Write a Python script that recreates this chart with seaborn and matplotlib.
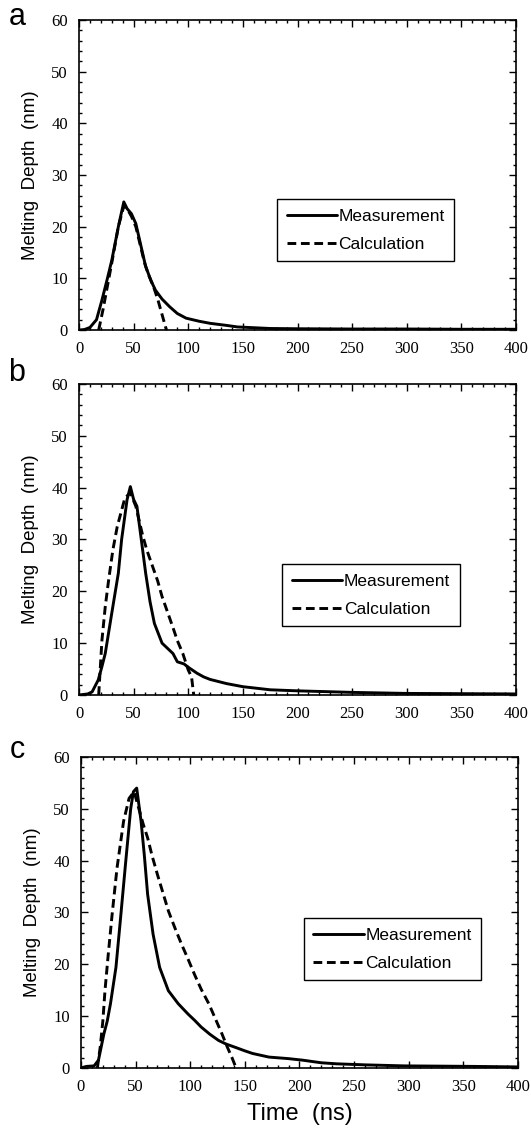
## Melting depth vs time, three laser conditions (a, b, c)
import numpy as np
import pandas as pd
import seaborn as sns
import matplotlib
matplotlib.use("Agg")
import matplotlib.pyplot as plt
from matplotlib.ticker import MultipleLocator

#values (time in ns, depth in nm)
meas_a_t = [0, 5, 10, 16, 21, 26, 30, 36, 41, 44, 48, 52, 57, 61, 66, 70, 76, 83, 90, 98, 110, 120, 135, 145, 160, 175, 200, 250, 300, 350, 400]
meas_a_d = [0, 0.1, 0.5, 2.0, 5.8, 10.0, 13.5, 20.0, 24.8, 23.5, 22.5, 20.6, 16.0, 12.3, 9.5, 7.7, 6.0, 4.5, 3.2, 2.3, 1.7, 1.3, 0.9, 0.6, 0.45, 0.3, 0.25, 0.2, 0.2, 0.15, 0.15]
calc_a_t = [18, 22, 26, 30, 36, 41, 44, 48, 52, 56, 60, 64, 68, 72, 76, 80]
calc_a_d = [0, 4.0, 8.5, 13.0, 20.0, 24.0, 23.5, 22.0, 20.0, 16.5, 13.0, 10.5, 8.5, 6.0, 3.0, 0]

meas_b_t = [0, 8, 12, 17.6, 21, 24, 30, 36, 39, 44, 47, 50, 53, 57, 61, 65, 69, 76, 81, 86, 90, 96, 101, 108, 114, 120, 135, 150, 175, 200, 250, 300, 350, 400]
meas_b_d = [0, 0.2, 0.6, 2.9, 5.5, 8.0, 15.8, 23.5, 30.0, 37.7, 40.2, 37.7, 36.4, 30.0, 23.5, 18.0, 13.8, 10.0, 9.0, 8.0, 6.4, 6.0, 5.2, 4.2, 3.5, 3.0, 2.2, 1.6, 1.0, 0.8, 0.5, 0.3, 0.25, 0.2]
calc_b_t = [18, 21, 24, 27, 31, 35, 42, 47, 52, 58, 62, 67, 72, 76, 81, 86, 90, 95, 100, 103, 105]
calc_b_d = [0, 10.6, 17.0, 22.0, 28.0, 32.5, 38.0, 39.0, 36.4, 31.0, 28.0, 25.0, 22.0, 19.0, 16.0, 13.0, 10.5, 8.0, 4.8, 3.5, 0]

meas_c_t = [0, 5, 12, 16, 21, 24, 27, 32, 36, 41, 45.5, 48, 51, 55, 58, 61, 66, 72, 80, 89, 98, 104, 110, 118, 126, 133, 141, 150, 157, 172, 190, 203, 220, 234, 260, 296, 330, 360, 400]
meas_c_d = [0, 0.3, 0.4, 1.5, 6.6, 9.0, 12.4, 19.4, 28.4, 39.9, 50.0, 53.3, 54.0, 47.6, 41.0, 33.5, 25.8, 19.4, 14.9, 12.4, 10.4, 9.2, 7.9, 6.5, 5.3, 4.6, 4.0, 3.3, 2.8, 2.1, 1.8, 1.5, 1.0, 0.8, 0.6, 0.4, 0.35, 0.3, 0.2]
calc_c_t = [15, 17.6, 20, 22, 25, 28.5, 33, 39, 44, 48.6, 53, 57, 61, 65, 70, 75, 80, 86, 92, 98, 104, 110, 117, 123, 129, 134, 138, 142]
calc_c_d = [0, 4.0, 9.0, 15.0, 22.0, 29.6, 38.6, 47.6, 52.0, 53.3, 50.0, 47.0, 44.4, 41.0, 37.3, 33.8, 30.3, 27.0, 23.9, 21.0, 18.0, 15.2, 12.4, 9.5, 6.6, 4.0, 2.1, 0]

panel_letters = ['a', 'b', 'c']
series_names = ['Measurement', 'Calculation']

sns.set_style("ticks")
plt.rcParams['font.family'] = ['Liberation Sans', 'DejaVu Sans']
plt.rcParams['axes.linewidth'] = 1.2
#plain black everywhere, like the scanned original
for key in ['text.color', 'axes.labelcolor', 'axes.edgecolor', 'xtick.color', 'ytick.color']:
    plt.rcParams[key] = 'black'

fig = plt.figure(figsize=(5.31, 11.33), dpi=100)

#axes rectangles in figure fractions
rects = [[0.1488, 0.7087, 0.823, 0.2736],
         [0.1488, 0.3866, 0.823, 0.2745],
         [0.1525, 0.0574, 0.823, 0.2745]]
#legend upper-left corners in axes coords
leg_pos = [(0.453, 0.423), (0.465, 0.421), (0.51, 0.482)]
letter_y = [17, 373, 750]

data = [(meas_a_t, meas_a_d, calc_a_t, calc_a_d),
        (meas_b_t, meas_b_d, calc_b_t, calc_b_d),
        (meas_c_t, meas_c_d, calc_c_t, calc_c_d)]

for i, (mt, md, ct, cd) in enumerate(data):
    ax = fig.add_axes(rects[i])
    df = pd.concat([
        pd.DataFrame({'time': mt, 'depth': md, 'series': series_names[0]}),
        pd.DataFrame({'time': ct, 'depth': cd, 'series': series_names[1]}),
    ])
    sns.lineplot(data=df, x='time', y='depth', style='series', color='black',
                 dashes={'Measurement': '', 'Calculation': (3, 1.6)},
                 linewidth=2.1, sort=False, estimator=None, ax=ax)
    ax.set_xlim(0, 400)
    ax.set_ylim(0, 60)
    ax.xaxis.set_major_locator(MultipleLocator(50))
    ax.xaxis.set_minor_locator(MultipleLocator(10))
    ax.yaxis.set_major_locator(MultipleLocator(10))
    ax.yaxis.set_minor_locator(MultipleLocator(2))
    ax.tick_params(which='both', direction='in', top=True, right=True, width=1.0)
    ax.tick_params(which='major', length=5, pad=8)
    ax.tick_params(which='minor', length=2.5)
    for lab in ax.get_xticklabels() + ax.get_yticklabels():
        lab.set_family(['Liberation Serif', 'DejaVu Serif'])
        lab.set_fontsize(12)
    ax.set_ylabel('Melting  Depth  (nm)', fontsize=13.5, labelpad=9)
    if i == 2:
        ax.set_xlabel('Time  (ns)', fontsize=17, labelpad=6)
    else:
        ax.set_xlabel('')

    handles, labels = ax.get_legend_handles_labels()
    leg = ax.legend(handles, labels, loc='upper left', bbox_to_anchor=leg_pos[i],
                    borderaxespad=0, fancybox=False, framealpha=1, edgecolor='black',
                    fontsize=12.5, handlelength=2.9, handletextpad=0.1,
                    labelspacing=0.75, borderpad=0.55)
    leg.get_frame().set_linewidth(1.0)

    fig.text(17 / 531, 1 - letter_y[i] / 1133, panel_letters[i], fontsize=22,
             ha='center', va='center')

fig.savefig('out.png', dpi=100)
